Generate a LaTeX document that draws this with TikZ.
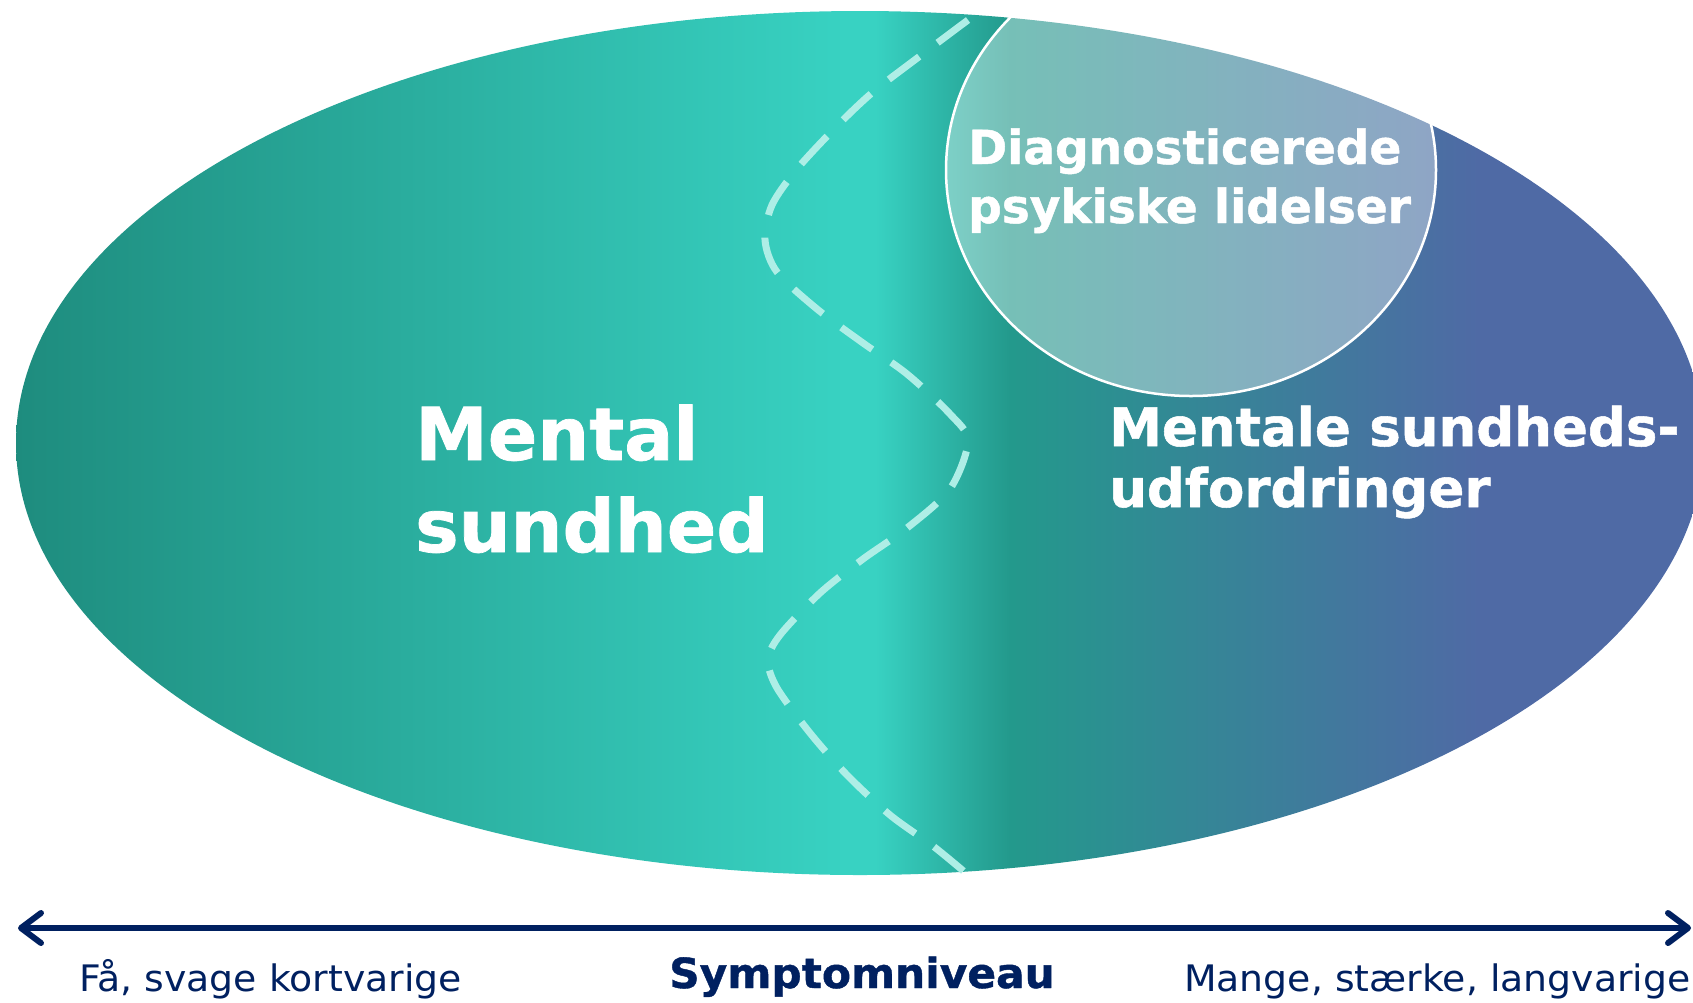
\documentclass[tikz,border=0pt]{standalone}
\usepackage{fontspec}
\setmainfont{DejaVu Sans}[BoldFeatures={FakeBold=1}]
\usetikzlibrary{arrows.meta}

\definecolor{navy}{HTML}{002060}
\definecolor{tealdeep}{HTML}{1E8C7E}
\definecolor{tealbright}{HTML}{38D2C2}
\definecolor{tealdark}{HTML}{23998C}
\definecolor{slateblue}{HTML}{4F6AA5}
\definecolor{wavecol}{HTML}{AEEEE6}

% horizontal colour band: deep teal -> bright turquoise | dark teal -> slate blue
\pgfdeclarehorizontalshading{bandshade}{100bp}{%
  color(0bp)=(tealdeep); color(25.47bp)=(tealdeep);
  color(49.96bp)=(tealbright); color(50.85bp)=(tealbright);
  color(54.83bp)=(tealdark); color(68.71bp)=(slateblue);
  color(100bp)=(slateblue)}

\begin{document}
\begin{tikzpicture}[x=1pt,y=-1pt,
  bigtitle/.style={anchor=base west, inner sep=0pt, text=white,
    font=\bfseries\fontsize{73}{88}\selectfont},
  midtitle/.style={anchor=base west, inner sep=0pt, text=white,
    font=\bfseries\fontsize{53}{64}\selectfont},
  diagtitle/.style={anchor=base west, inner sep=0pt, text=white,
    font=\bfseries\fontsize{47}{56}\selectfont},
  axislabel/.style={anchor=base west, inner sep=0pt, text=navy,
    font=\fontsize{36.5}{44}\selectfont\addfontfeature{FakeStretch=1.035}},
  axistitle/.style={anchor=base west, inner sep=0pt, text=navy,
    font=\bfseries\fontsize{41.5}{49}\selectfont\addfontfeature{FakeStretch=1.02}},
  wave/.style={draw=wavecol, line width=7pt, dash pattern=on 38pt off 23pt},
  diagfill/.style={fill=white, fill opacity=0.38, draw=white, draw opacity=1,
    line width=2.5pt},
  axisline/.style={draw=navy, line width=6pt,
    {Straight Barb[length=20pt,width=30pt,round]}-{Straight Barb[length=20pt,width=30pt,round]}}
]
\useasboundingbox (0,0) rectangle (1693,1002);
\clip (0,0) rectangle (1693,1002);

% main ellipse with the colour band
\begin{scope}
  \clip (860,443) ellipse [x radius=844, y radius=432];
  \shade[shading=bandshade] (0,0) rectangle (1693,1002);
\end{scope}

% dashed boundary wave
\draw[wave] plot[smooth, tension=0.5] coordinates {
  (968,20) (920,56) (873,92) (837,126) (797,169) (772,205) (765,240)
  (777,272) (817,309) (863,343) (907,374) (950,414) (968,441)
  (950,489) (907,528) (863,559) (820,593) (780,635) (768,660)
  (777,688) (810,733) (847,775) (890,815) (933,846) (967,874)};

% diagnosed disorders circle
\path[diagfill] (1191,170) ellipse [x radius=245, y radius=226];

% labels inside the ellipse
\node[bigtitle] (ms1) at (415,460) {Mental};
\node[bigtitle] (ms2) at (415,552) {sundhed};
\node[diagtitle] (dg1) at (968,164) {Diagnosticerede};
\node[diagtitle] (dg2) at (968,223) {psykiske lidelser};
\node[midtitle] (mu1) at (1109,446) {Mentale sundheds-};
\node[midtitle] (mu2) at (1109,507) {udfordringer};

% symptom axis
\coordinate (lo) at (18,928);
\coordinate (hi) at (1691,928);
\draw[axisline] (lo) -- (hi);

\node[axislabel] (few) at (79,991) {Få, svage kortvarige};
\node[axistitle] (sym) at (669,988) {Symptomniveau};
\node[axislabel] (many) at (1184,991) {Mange, stærke, langvarige};
\end{tikzpicture}
\end{document}
